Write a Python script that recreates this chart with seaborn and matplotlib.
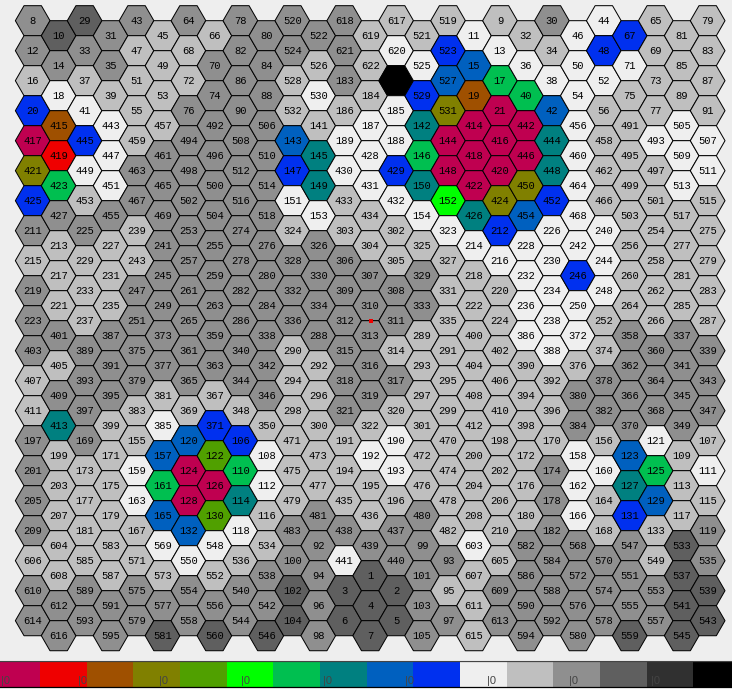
import numpy as np
import pandas as pd
import matplotlib
matplotlib.use("Agg")
import matplotlib.pyplot as plt
from matplotlib.colors import ListedColormap
import seaborn as sns

W, H = 732, 689
BG = "#eeeeee"

# palette classes
class_colors = {
    "C": "#bf0050", "R": "#ef0000", "N": "#9f5000", "O": "#808000",
    "P": "#50a000", "Y": "#00ff00", "E": "#00bf50", "T": "#008080",
    "S": "#0060bf", "B": "#0030ef", "W": "#efefef", "L": "#bfbfbf",
    "G": "#8f8f8f", "D": "#5f5f5f", "K": "#303030", "X": "#000000",
}
legend_order = list(class_colors.keys())

# one list of labels and one string of colour classes per hexagon column
col00 = "8 12 16 20 417 421 425 211 215 219 223 403 407 411 197 201 205 209 606 610 614".split()
cls00 = "GGLBCOBGLGGGLLGGGGLGG"
col01 = "10 14 18 415 419 423 427 213 217 221 401 405 409 413 199 203 207 604 608 612 616".split()
cls01 = "DGWNREGLLLGLGTLLLLLGG"
col02 = "29 33 37 41 445 449 453 225 229 233 237 389 393 397 169 173 177 181 585 589 593".split()
cls02 = "DGLWBWLGLLLGGGGLLLLGG"
col03 = "31 35 39 443 447 451 455 227 231 235 387 391 395 399 171 175 179 583 587 591 595".split()
cls03 = "GGLWWWGLLLGGGLLLLLLGG"
col04 = "43 47 51 55 459 463 467 239 243 247 251 375 379 383 155 159 163 167 571 575 579".split()
cls04 = "GLLLLGGLLGGGGLLWWLLGG"
col05 = "45 49 53 457 461 465 469 241 245 249 373 377 381 385 157 161 165 569 573 577 581".split()
cls05 = "LLLLGGGGGGGGLWSESWLGD"
col06 = "64 68 72 76 494 498 502 253 257 261 265 361 365 369 120 124 128 132 550 554 558".split()
cls06 = "GLLGGGGGGGGGGLSCCSWGG"
col07 = "66 70 74 492 496 500 504 255 259 263 359 363 367 371 122 126 130 548 552 556 560".split()
cls07 = "LGGGGGGGGGGGLBPCPWLGD"
col08 = "78 82 86 90 508 512 516 274 278 282 286 340 344 348 106 110 114 118 536 540 544".split()
cls08 = "GGGGGGGGGGGGGLBETWLGG"
col09 = "80 84 88 506 510 514 518 276 280 284 338 342 346 350 108 112 116 534 538 542 546".split()
cls09 = "GGGGGGGGGGGGGLWWLLGGD"
col10 = "520 524 528 532 143 147 151 324 328 332 336 290 294 298 471 475 479 483 100 102 104".split()
cls10 = "GGLLSBWLGGGLLLLLLGGDD"
col11 = "522 526 530 141 145 149 153 326 330 334 288 292 296 300 473 477 481 92 94 96 98".split()
cls11 = "GLWLTTWGGGGLLLLLGGGGG"
col12 = "618 621 183 186 189 430 433 303 306 309 312 315 318 321 191 194 435 438 441 3 6".split()
cls12 = "GGGLWWLLGGGGGGLLLGWDD"
col13 = "619 622 184 187 428 431 434 304 307 310 313 316 319 322 192 195 436 439 1 4 7".split()
cls13 = "LLLWWWLLGGGGGLWLLGDDD"
col14 = "617 620 . 185 188 429 432 302 305 308 311 314 317 320 190 193 196 437 440 2 5".split()
cls14 = "LWXWWBWLLGGLGLWWLGGDD"
col15 = "521 525 529 142 146 150 154 325 329 333 289 293 297 301 472 476 480 99 101 103 105".split()
cls15 = "LWBTETWLGGLLLLLLGGGGG"
col16 = "519 523 527 531 144 148 152 323 327 331 335 291 295 299 470 474 478 482 93 95 97".split()
cls16 = "LBSOCCYWLLLLLLLLLLGLG"
col17 = "11 15 19 414 418 422 426 214 218 222 400 404 408 412 200 204 208 603 607 611 615".split()
cls17 = "WSNCCCTWLLLLLLLLLWLLL"
col18 = "9 13 17 21 416 420 424 212 216 220 224 402 406 410 198 202 206 210 605 609 613".split()
cls18 = "LWECCCOBWLLLLLLLLLLGG"
col19 = "32 36 40 442 446 450 454 228 232 236 386 390 394 398 172 176 180 582 586 590 594".split()
cls19 = "LWECCOSWWWWLLLLLLGGGG"
col20 = "30 34 38 42 444 448 452 226 230 234 238 388 392 396 170 174 178 182 584 588 592".split()
cls20 = "GLWSTTBWWWWWLLLGGGGGG"
col21 = "46 50 54 456 460 464 468 242 246 250 372 376 380 384 158 162 166 568 572 576 580".split()
cls21 = "WWWWWWWWBWWLGGWWWGGGG"
col22 = "44 48 52 56 458 462 466 240 244 248 252 374 378 382 156 160 164 168 570 574 578".split()
cls22 = "WBWLLLLWWWLLGGLWLLGGG"
col23 = "67 71 75 491 495 499 503 256 260 264 358 362 366 370 123 127 131 547 551 555 559".split()
cls23 = "BWLLLLLLLLGGGGSTBGGGD"
col24 = "65 69 73 77 493 497 501 254 258 262 266 360 364 368 121 125 129 133 549 553 557".split()
cls24 = "LLLLWLLLLLLGGGWESLLGG"
col25 = "81 85 89 505 509 513 517 277 281 285 337 341 345 349 109 113 117 533 537 541 545".split()
cls25 = "LLLWWWLLLLGGGGLLLDDDD"
col26 = "79 83 87 91 507 511 515 275 279 283 287 339 343 347 107 111 115 119 535 539 543".split()
cls26 = "LLLLWWLLLLLGGGLWLGGDD"

all_labels = [col00, col01, col02, col03, col04, col05, col06, col07, col08,
              col09, col10, col11, col12, col13, col14, col15, col16, col17,
              col18, col19, col20, col21, col22, col23, col24, col25, col26]
all_classes = [cls00, cls01, cls02, cls03, cls04, cls05, cls06, cls07, cls08,
               cls09, cls10, cls11, cls12, cls13, cls14, cls15, cls16, cls17,
               cls18, cls19, cls20, cls21, cls22, cls23, cls24, cls25, cls26]

rows = []
for c, (labs, clss) in enumerate(zip(all_labels, all_classes)):
    for r, (lab, k) in enumerate(zip(labs, clss)):
        rows.append({"col": c, "row": 2 * r + c % 2, "label": lab, "cls": k})
df = pd.DataFrame(rows)

sns.set_theme(style="white")

fig = plt.figure(figsize=(W / 100, H / 100), dpi=100, facecolor="white")
ax = fig.add_axes([0, (H - 660) / H, 1, 660 / H], facecolor=BG)

x0, dx = 32.7, 25.96
y0, dy = 20.7, 15.0
sns.scatterplot(data=df, x="col", y="row", hue="cls", palette=class_colors,
                hue_order=legend_order, marker="H", s=(2 * 17.35 * 0.72) ** 2,
                edgecolor="black", linewidth=0.72, legend=False, ax=ax,
                zorder=2, clip_on=False)
ax.set_xlim(-x0 / dx, (W - x0) / dx)
ax.set_ylim((660 - y0) / dy, -y0 / dy)
ax.set_xlabel("")
ax.set_ylabel("")
ax.set_xticks([])
ax.set_yticks([])
sns.despine(ax=ax, left=True, bottom=True)

for _, t in df[df["label"] != "."].iterrows():
    ax.text(t["col"], t["row"] + 0.02, t["label"], ha="center", va="center",
            family="Liberation Mono", fontsize=7.6, color="black", zorder=3)

# small red marker between hexagons 310 and 313
marker_col, marker_row = [13.05], [20.05]
ax.scatter(marker_col, marker_row, marker="s", s=5, color="#ef0000", linewidths=0, zorder=4)

# colour strip
strip_left, strip_width = -6.6, 46.66 * 16
cax = fig.add_axes([strip_left / W, (H - 686.5) / H, strip_width / W, 26 / H])
strip_values = np.arange(16).reshape(1, -1)
sns.heatmap(strip_values, cmap=ListedColormap(list(class_colors.values())),
            cbar=False, ax=cax, xticklabels=False, yticklabels=False)
cax.set_xlabel("")
cax.set_ylabel("")
for s in ["left", "right"]:
    cax.spines[s].set_visible(False)
cax.spines["top"].set_visible(True)
cax.spines["top"].set_color("#444444")
cax.spines["top"].set_linewidth(0.9)
cax.spines["bottom"].set_visible(True)
cax.spines["bottom"].set_color("black")
cax.spines["bottom"].set_linewidth(0.9)

strip_ticks = [0.26, 1.9, 3.65, 5.4, 7.16, 8.92, 10.67, 12.43, 14.18]
for v in strip_ticks:
    cax.text(v, 0.77, "|0", ha="center", va="center", family="Liberation Sans",
             fontsize=8, color="#444444", zorder=5)

fig.savefig("out.png", dpi=100, facecolor="white")
